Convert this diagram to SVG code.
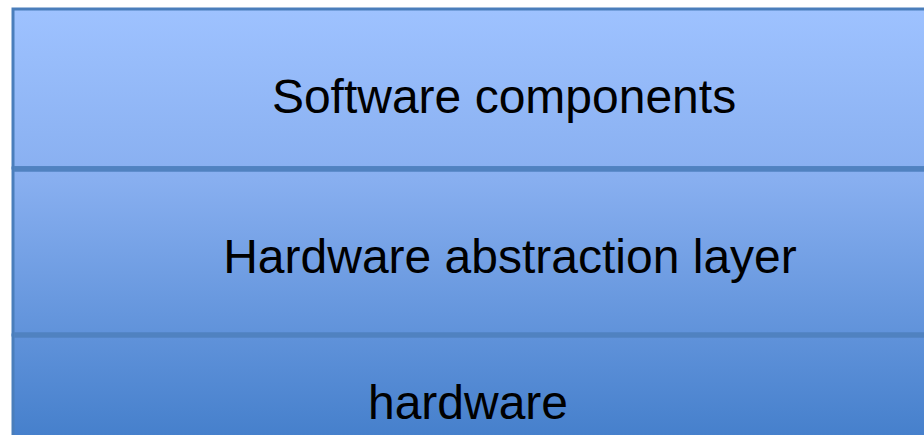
<svg xmlns="http://www.w3.org/2000/svg" width="924" height="435" viewBox="0 0 924 435">
<defs>
<linearGradient id="g" gradientUnits="userSpaceOnUse" x1="0" y1="9" x2="0" y2="435">
<stop offset="0" stop-color="#9ec2ff"/>
<stop offset="0.4" stop-color="#88aff0"/>
<stop offset="1" stop-color="#4680cc"/>
</linearGradient>
<style>
.layer{fill:url(#g);stroke:#4a7ebb;stroke-width:3}
.div{stroke:#5082c0;stroke-width:5.5}
.lbl{font-family:"Liberation Sans",Arial,sans-serif;font-size:48px;fill:#000;text-anchor:middle}
</style>
</defs>
<g id="software">
<rect class="layer" x="13" y="9" width="960" height="159"/>
<text class="lbl" x="504" y="113">Software components</text>
</g>
<g id="hal">
<rect class="layer" x="13" y="168" width="960" height="167"/>
<text class="lbl" x="510" y="273">Hardware abstraction layer</text>
</g>
<g id="hardware">
<rect class="layer" x="13" y="335" width="960" height="120"/>
<text class="lbl" x="468" y="419">hardware</text>
</g>
<g id="connectors">
<line class="div" x1="14" y1="169" x2="924" y2="169"/>
<line class="div" x1="14" y1="335" x2="924" y2="335"/>
</g>
</svg>
